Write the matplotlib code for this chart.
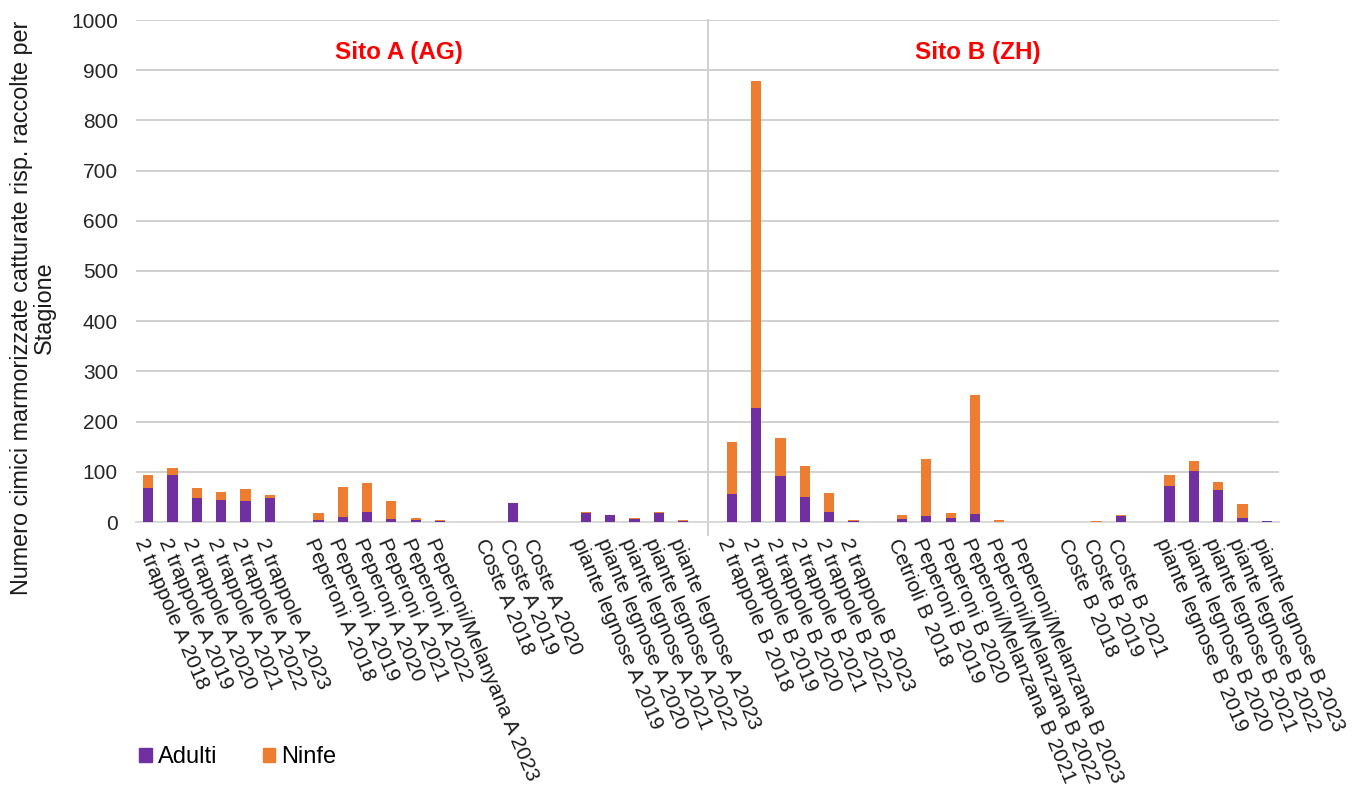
import matplotlib
matplotlib.use("Agg")
import matplotlib.pyplot as plt
from matplotlib.patches import Patch
import numpy as np

plt.rcParams['font.family'] = ['Liberation Sans', 'DejaVu Sans']

categories = [
    "2 trappole A 2018", "2 trappole A 2019", "2 trappole A 2020", "2 trappole A 2021",
    "2 trappole A 2022", "2 trappole A 2023", "",
    "Peperoni A 2018", "Peperoni A 2019", "Peperoni A 2020", "Peperoni A 2021",
    "Peperoni A 2022", "Peperoni/Melanyana A 2023", "",
    "Coste A 2018", "Coste A 2019", "Coste A 2020", "",
    "piante legnose A 2019", "piante legnose A 2020", "piante legnose A 2021",
    "piante legnose A 2022", "piante legnose A 2023", "",
    "2 trappole B 2018", "2 trappole B 2019", "2 trappole B 2020", "2 trappole B 2021",
    "2 trappole B 2022", "2 trappole B 2023", "",
    "Cetrioli B 2018", "Peperoni B 2019", "Peperoni B 2020",
    "Peperoni/Melanzana B 2021", "Peperoni/Melanzana B 2022", "Peperoni/Melanzana B 2023", "",
    "Coste B 2018", "Coste B 2019", "Coste B 2021", "",
    "piante legnose B 2019", "piante legnose B 2020", "piante legnose B 2021",
    "piante legnose B 2022", "piante legnose B 2023",
]

adulti = [67, 93, 47, 43, 42, 47, 0,
          3, 10, 20, 6, 3, 1, 0,
          0, 37, 0, 0,
          17, 13, 5, 17, 1, 0,
          55, 228, 92, 50, 19, 2, 0,
          5, 11, 7, 15, 0, 0, 0,
          0, 0, 11, 0,
          71, 102, 63, 7, 2]

ninfe = [26, 15, 20, 16, 23, 6, 0,
         14, 60, 57, 36, 5, 3, 0,
         0, 0, 0, 0,
         2, 0, 2, 2, 3, 0,
         105, 651, 76, 62, 38, 1, 0,
         8, 114, 11, 238, 3, 0, 0,
         0, 2, 2, 0,
         22, 20, 16, 28, 0]

site_titles = ["Sito A (AG)", "Sito B (ZH)"]
separator_index = 23

c_adulti = "#7030A0"
c_ninfe = "#ED7D31"

fig = plt.figure(figsize=(13.63, 7.9), dpi=100)
ax = fig.add_axes([136/1363, 1-522/790, (1279-136)/1363, (522-20)/790])

x = np.arange(len(categories))
w = 0.42
ax.bar(x, adulti, width=w, color=c_adulti, label="Adulti", zorder=3)
ax.bar(x, ninfe, width=w, bottom=adulti, color=c_ninfe, label="Ninfe", zorder=3)

ax.set_xlim(-0.5, len(categories) - 0.5)
ax.set_ylim(0, 1000)
ax.set_yticks(np.arange(0, 1001, 100))
ax.yaxis.grid(True, color="#d0d0d0", linewidth=1.4, zorder=0)
ax.set_axisbelow(True)
for s in ["left", "right", "top"]:
    ax.spines[s].set_visible(False)
ax.spines["bottom"].set_color("#d9d9d9")
ax.spines["bottom"].set_linewidth(1.4)
ax.tick_params(axis="y", length=0, pad=13, labelsize=15, labelcolor="#262626")
ax.tick_params(axis="x", length=0, pad=10)

ax.set_xticks(x)
ax.set_xticklabels(categories, rotation=-67, ha="left", va="top",
                   rotation_mode="anchor", fontsize=15, color="#1a1a1a")

# separator between sites
ax.plot([separator_index, separator_index], [-25, 1000], color="#d0d0d0",
        linewidth=1.4, clip_on=False, zorder=1)

ax.text(10.31, 935, site_titles[0], color="#FF0000", fontsize=17.5,
        fontweight="bold", ha="center", va="center")
ax.text(34.12, 935, site_titles[1], color="#FF0000", fontsize=17.5,
        fontweight="bold", ha="center", va="center")

fig.text(33/1363, 1-308/790,
         "Numero cimici marmorizzate catturate risp. raccolte per\nStagione",
         rotation=90, ha="center", va="center", multialignment="center",
         fontsize=16.8, color="#1a1a1a", linespacing=0.95)

handles = [Patch(color=c_adulti), Patch(color=c_ninfe)]
fig.legend(handles, ["Adulti", "Ninfe"], loc="center left",
           bbox_to_anchor=(118/1363, 1-757/790), ncol=2, frameon=False,
           fontsize=17, handlelength=0.55, handleheight=0.55,
           handletextpad=0.25, columnspacing=1.9)

fig.savefig("out.png", dpi=100)
